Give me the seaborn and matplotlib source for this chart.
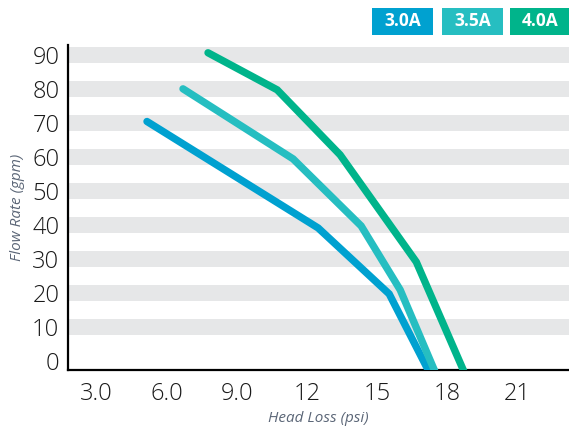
import pandas as pd
import matplotlib.pyplot as plt
from matplotlib.patches import Rectangle
import seaborn as sns

# =============================================================================
# Data
# =============================================================================

series_names = ['3.0A', '3.5A', '4.0A']
series_colors = ['#00A1D0', '#26BEC1', '#00B48B']

head_30 = [5.15, 12.47, 15.51, 17.20]
flow_30 = [70.4, 39.1, 19.7, -3.0]

head_35 = [6.69, 11.40, 14.31, 15.98, 17.46]
flow_35 = [80.0, 59.4, 39.7, 20.9, -3.0]

head_40 = [7.76, 10.72, 13.41, 16.67, 18.70]
flow_40 = [90.6, 79.7, 60.6, 29.1, -3.0]

x_ticks = [3, 6, 9, 12, 15, 18, 21]
x_tick_labels = ['3.0', '6.0', '9.0', '12', '15', '18', '21']
y_ticks = [0, 10, 20, 30, 40, 50, 60, 70, 80, 90]

# long form frame for seaborn
df = pd.concat([
    pd.DataFrame({'head': head_30, 'flow': flow_30, 'amps': '3.0A'}),
    pd.DataFrame({'head': head_35, 'flow': flow_35, 'amps': '3.5A'}),
    pd.DataFrame({'head': head_40, 'flow': flow_40, 'amps': '4.0A'}),
])

# =============================================================================
# Plot
# =============================================================================

sns.set_theme(style='white')
plt.rcParams['font.family'] = ['Open Sans', 'DejaVu Sans']

fig = plt.figure(figsize=(5.69, 4.26), dpi=100)
ax = fig.add_axes([0.119, 0.1315, 0.881, 0.763])

# grey bands behind each gridline (not at zero)
for v in y_ticks[1:]:
    ax.axhspan(v - 2.3, v + 2.3, color='#E6E7E8', lw=0, zorder=0)

for name, col in zip(series_names, series_colors):
    sub = df[df['amps'] == name]
    sns.lineplot(data=sub, x='head', y='flow', color=col, lw=5.3,
                 solid_capstyle='round', solid_joinstyle='miter',
                 sort=False, estimator=None, ax=ax, zorder=3)

ax.set_xlim(1.76, 23.2)
ax.set_ylim(-2.65, 92.9)
ax.set_xticks(x_ticks)
ax.set_xticklabels(x_tick_labels)
ax.set_yticks(y_ticks)
ax.tick_params(axis='both', length=0, labelsize=17, colors='#1A1A1A')
ax.tick_params(axis='y', pad=6)
ax.tick_params(axis='x', pad=9)
for lab in ax.get_xticklabels() + ax.get_yticklabels():
    lab.set_fontweight('light')

sns.despine(ax=ax)
ax.spines['left'].set_linewidth(1.6)
ax.spines['bottom'].set_linewidth(1.6)
ax.spines['left'].set_color('black')
ax.spines['bottom'].set_color('black')

ax.set_xlabel('Head Loss (psi)', fontsize=11, style='italic', color='#5B6677', labelpad=3)
ax.set_ylabel('Flow Rate (gpm)', fontsize=11, style='italic', color='#5B6677', labelpad=5)

# legend boxes top right
box_x = [372, 442, 510]
for bx, name, col in zip(box_x, series_names, series_colors):
    fig.patches.append(Rectangle((bx / 569, (426 - 35) / 426), 61 / 569, 27 / 426,
                                 transform=fig.transFigure, color=col, lw=0))
    fig.text((bx + 30.5) / 569, (426 - 21.5) / 426, name, color='white',
             fontsize=12.5, fontweight='bold', ha='center', va='center')

plt.savefig('out.png', dpi=100)
